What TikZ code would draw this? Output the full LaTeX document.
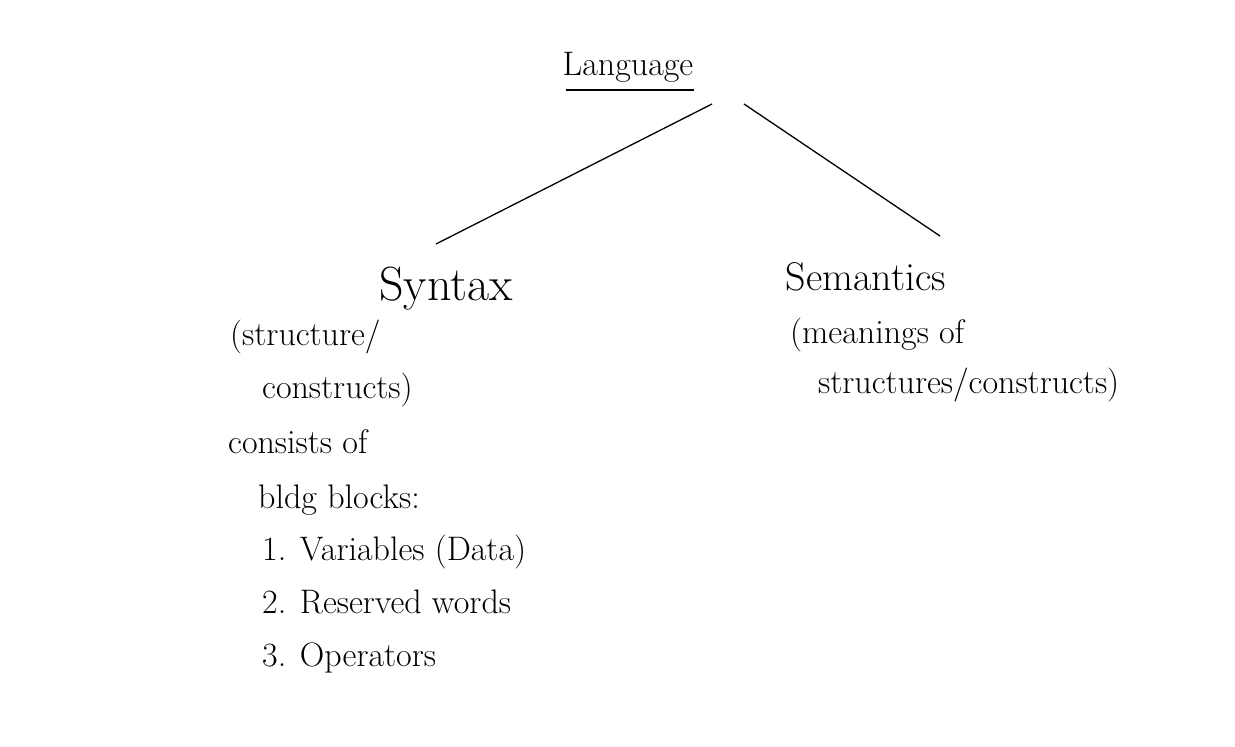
\documentclass[tikz,border=0pt]{standalone}
\usepackage{fontspec}
\begin{document}
\begin{tikzpicture}[x=1pt,y=-1pt,
  ink/.style={line width=1.3pt,black},
  txt/.style={inner sep=0pt,anchor=base west,font=\fontsize{34}{40}\selectfont},
  big/.style={inner sep=0pt,anchor=base,font=\fontsize{40}{46}\selectfont}]
\useasboundingbox[fill=white] (0,0) rectangle (1235,747);

% root
\node[big,font=\fontsize{34}{40}\selectfont] (lang) at (628,75) {Language};
\draw[ink] (566,90) -- (694,90);

% children
\node[big,font=\fontsize{48}{54}\selectfont] (syn) at (446,300) {Syntax};
\node[big] (sem) at (866,290) {Semantics};

% branch end points
\coordinate (lL) at (712,104);
\coordinate (lR) at (744,104);
\coordinate (sL) at (436,244);
\coordinate (sR) at (940,236);
\draw[ink] (lL) -- (sL);
\draw[ink] (lR) -- (sR);

% syntax notes
\node[txt] (s1) at (230,345) {(structure/};
\node[txt] (s2) at (262,398) {constructs)};
\node[txt] (s3) at (228,453) {consists of};
\node[txt] (s4) at (258,508) {bldg blocks:};
\node[txt] (s5) at (262,560) {1. Variables (Data)};
\node[txt] (s6) at (262,613) {2. Reserved words};
\node[txt] (s7) at (262,666) {3. Operators};

% semantics notes
\node[txt] (m1) at (790,343) {(meanings of};
\node[txt] (m2) at (818,393) {structures/constructs)};
\end{tikzpicture}
\end{document}
